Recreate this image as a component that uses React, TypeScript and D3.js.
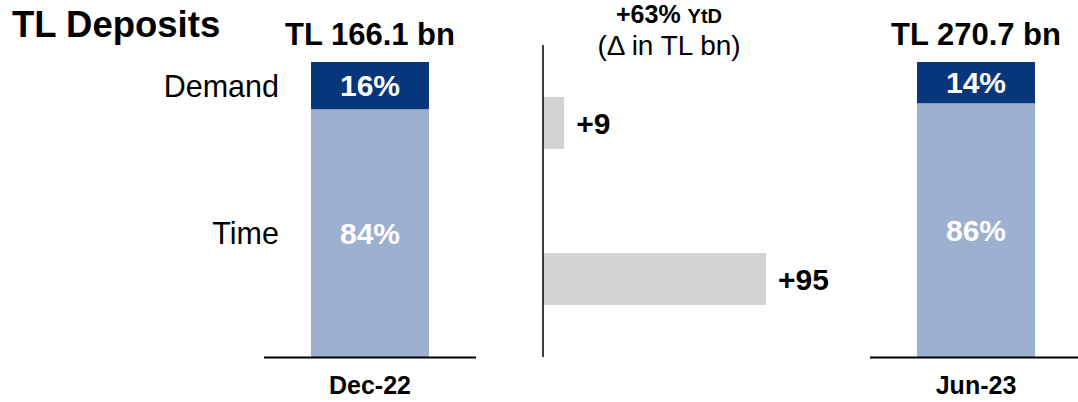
import React, { useEffect, useRef } from "react";
import * as d3 from "d3";

const periods = ["Dec-22", "Jun-23"];
const totals = ["TL 166.1 bn", "TL 270.7 bn"];
const segments = ["Time", "Demand"];
const demandShare = [16, 14];
const timeShare = [84, 86];
const deltaKeys = ["Demand", "Time"];
const deltaValues = [9, 95];
const growthLabel = "+63%";

const W = 1078;
const H = 402;
const FONT = "'Liberation Sans', Arial, Helvetica, sans-serif";
const DARK = "#08367B";
const LIGHT = "#9DB0CF";
const GREY = "#D3D3D3";

export default function App() {
  const ref = useRef<SVGSVGElement | null>(null);

  useEffect(() => {
    const svg = d3.select(ref.current);
    svg.selectAll("*").remove();

    const top = 62;
    const base = 357;
    const y = d3.scaleLinear().domain([0, 100]).range([base, top]);

    const rows = periods.map((p, i) => ({ period: p, Time: timeShare[i], Demand: demandShare[i] }));
    const stacked = d3.stack<any>().keys(segments)(rows);

    // panel ranges for the two stacked bars
    const panels = [[264, 476], [870, 1082]];

    svg.append("text")
      .attr("x", 12).attr("y", 37)
      .attr("font-family", FONT).attr("font-weight", "bold").attr("font-size", 36.5)
      .text("TL Deposits");

    periods.forEach((p, i) => {
      const x = d3.scaleBand().domain([p]).range(panels[i] as [number, number]).padding(0.285);
      const cx = x(p)! + x.bandwidth() / 2;
      const g = svg.append("g");

      stacked.forEach((s) => {
        const d = s[i];
        g.append("rect")
          .attr("x", x(p)!)
          .attr("width", x.bandwidth())
          .attr("y", y(d[1]))
          .attr("height", y(d[0]) - y(d[1]))
          .attr("fill", s.key === "Demand" ? DARK : LIGHT);
        g.append("text")
          .attr("x", cx)
          .attr("y", (y(d[0]) + y(d[1])) / 2)
          .attr("dy", "0.36em")
          .attr("text-anchor", "middle")
          .attr("font-family", FONT).attr("font-weight", "bold").attr("font-size", 30)
          .attr("fill", "#fff")
          .text(`${s.key === "Demand" ? demandShare[i] : timeShare[i]}%`);
      });

      g.append("line")
        .attr("x1", panels[i][0]).attr("x2", panels[i][1])
        .attr("y1", base + 0.5).attr("y2", base + 0.5)
        .attr("stroke", "#000").attr("stroke-width", 2);

      g.append("text")
        .attr("x", cx).attr("y", 45)
        .attr("text-anchor", "middle")
        .attr("font-family", FONT).attr("font-weight", "bold").attr("font-size", 31)
        .text(totals[i]);

      g.append("text")
        .attr("x", cx).attr("y", 394)
        .attr("text-anchor", "middle")
        .attr("font-family", FONT).attr("font-weight", "bold").attr("font-size", 25)
        .text(p);

      if (i === 0) {
        stacked.forEach((s) => {
          const d = s[i];
          g.append("text")
            .attr("x", 279)
            .attr("y", (y(d[0]) + y(d[1])) / 2)
            .attr("dy", "0.36em")
            .attr("text-anchor", "end")
            .attr("font-family", FONT).attr("font-size", 30.5)
            .text(s.key);
        });
      }
    });

    // change (delta) bars
    const x0 = 543;
    const dx = d3.scaleLinear().domain([0, 95]).range([x0, 766]);
    const dy = d3.scaleBand().domain(deltaKeys).range([45, 357]).paddingInner(0.667).paddingOuter(0.333);

    const mid = svg.append("g");
    mid.selectAll("rect")
      .data(deltaValues)
      .enter()
      .append("rect")
      .attr("x", dx(0))
      .attr("y", (d, i) => dy(deltaKeys[i])!)
      .attr("width", (d) => dx(d) - dx(0))
      .attr("height", dy.bandwidth())
      .attr("fill", GREY);

    mid.selectAll("text.val")
      .data(deltaValues)
      .enter()
      .append("text")
      .attr("class", "val")
      .attr("x", (d) => dx(d) + 12)
      .attr("y", (d, i) => dy(deltaKeys[i])! + dy.bandwidth() / 2)
      .attr("dy", "0.36em")
      .attr("font-family", FONT).attr("font-weight", "bold").attr("font-size", 30)
      .text((d) => `+${d}`);

    mid.append("line")
      .attr("x1", x0).attr("x2", x0)
      .attr("y1", 45).attr("y2", 357)
      .attr("stroke", "#000").attr("stroke-width", 1.5);

    const head = mid.append("text")
      .attr("x", 669).attr("y", 23)
      .attr("text-anchor", "middle")
      .attr("font-family", FONT).attr("font-weight", "bold");
    head.append("tspan").attr("font-size", 25).text(growthLabel + " ");
    head.append("tspan").attr("font-size", 20).text("YtD");

    mid.append("text")
      .attr("x", 669).attr("y", 55)
      .attr("text-anchor", "middle")
      .attr("font-family", FONT).attr("font-size", 28)
      .text("(\u0394 in TL bn)");
  }, []);

  return (
    <svg
      ref={ref}
      width={W}
      height={H}
      style={{ position: "absolute", left: 0, top: 0, background: "#fff" }}
    />
  );
}
